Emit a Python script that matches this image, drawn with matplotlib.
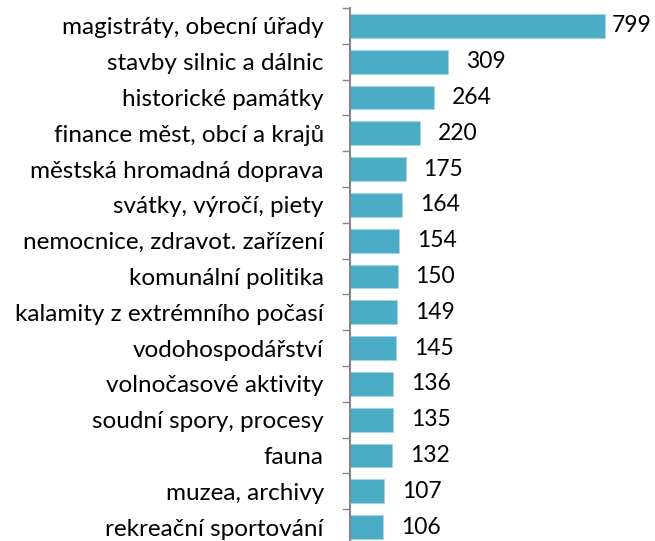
import matplotlib
matplotlib.use("Agg")
import matplotlib.pyplot as plt

categories = [
    "magistráty, obecní úřady",
    "stavby silnic a dálnic",
    "historické památky",
    "finance měst, obcí a krajů",
    "městská hromadná doprava",
    "svátky, výročí, piety",
    "nemocnice, zdravot. zařízení",
    "komunální politika",
    "kalamity z extrémního počasí",
    "vodohospodářství",
    "volnočasové aktivity",
    "soudní spory, procesy",
    "fauna",
    "muzea, archivy",
    "rekreační sportování",
]
values = [799, 309, 264, 220, 175, 164, 154, 150, 149, 145, 136, 135, 132, 107, 106]

plt.rcParams["font.family"] = ["Lato", "DejaVu Sans"]

fig = plt.figure(figsize=(6.55, 5.41), dpi=100)
ax = fig.add_axes([349.5 / 655, -4 / 541, 288 / 655, 537 / 541])

pos = list(range(len(categories)))
ax.barh(pos, values, height=0.667, color="#4BACC6", edgecolor="#A5D5E2", linewidth=0.6)
ax.set_ylim(len(categories) - 0.5, -0.5)
ax.set_xlim(0, 900)

# value labels: 18 px after the bar end, but kept inside the plot area
for p, v in zip(pos, values):
    x = min(v + 56, 820)
    ax.text(x, p, str(v), va="center", ha="left", fontsize=16.5)

ax.set_yticks([p + 0.5 for p in [-1] + pos])
ax.set_yticklabels([])
ax.set_yticks(pos, minor=True)
ax.set_yticklabels(categories, minor=True, fontsize=17.5)
ax.tick_params(axis="y", which="major", length=6, color="#868686", width=1)
ax.tick_params(axis="y", which="minor", length=0, pad=18.5)
ax.set_xticks([])
for s in ["top", "right", "bottom"]:
    ax.spines[s].set_visible(False)
ax.spines["left"].set_color("#868686")
ax.spines["left"].set_linewidth(1.5)

fig.savefig("out.png", dpi=100)
